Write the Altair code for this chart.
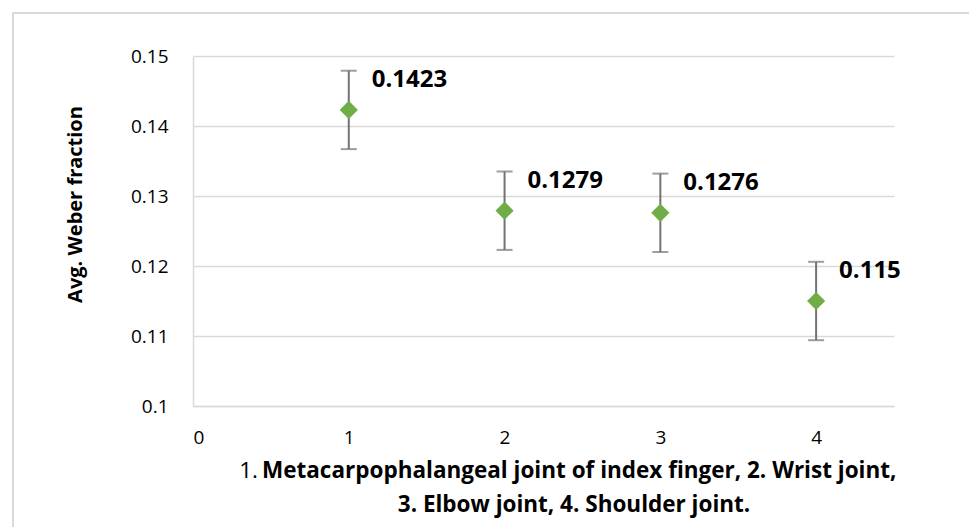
import altair as alt
import pandas as pd

joints = [1, 2, 3, 4]
means = [0.1423, 0.1279, 0.1276, 0.115]
errs = [0.0056, 0.0056, 0.0056, 0.0056]
labels = ["0.1423", "0.1279", "0.1276", "0.115"]
x_ticks = [0, 1, 2, 3, 4]
y_ticks = [0.1, 0.11, 0.12, 0.13, 0.14, 0.15]

df = pd.DataFrame({"joint": joints, "mean": means, "err": errs, "label": labels})
df["lo"] = df["mean"] - df["err"]
df["hi"] = df["mean"] + df["err"]

FONT = "Open Sans"
W, H = 701, 350
PL, PT = 193, 56

xs = alt.Scale(domain=[0, 4.5], nice=False, zero=False)
ys = alt.Scale(domain=[0.1, 0.15], nice=False, zero=False)

base = alt.Chart(df)

points = base.mark_point(shape="diamond", filled=True, size=330, color="#70AD47", opacity=1).encode(
    x=alt.X("joint:Q", scale=xs,
            axis=alt.Axis(values=x_ticks, format="d", title=None, grid=False, ticks=False,
                          domainColor="#d9d9d9", domainWidth=1.5,
                          labelFont=FONT, labelFontSize=19, labelColor="#000000",
                          labelPadding=22)),
    y=alt.Y("mean:Q", scale=ys,
            axis=alt.Axis(values=y_ticks, format="~g", title="Avg. Weber fraction",
                          ticks=False, gridColor="#d9d9d9", gridWidth=1.5,
                          domainColor="#d9d9d9", domainWidth=1.5,
                          labelFont=FONT, labelFontSize=19, labelColor="#000000",
                          labelPadding=25,
                          titleFont=FONT, titleFontSize=20, titleFontWeight="bold",
                          titleColor="#000000", titleAngle=-90, titleX=-118, titleY=148,
                          titleAlign="center", titleBaseline="middle")),
)

rules = base.mark_rule(color="#737373", strokeWidth=2).encode(
    x=alt.X("joint:Q", scale=xs), y=alt.Y("lo:Q", scale=ys), y2="hi:Q"
)
cap_lo = base.mark_tick(orient="horizontal", color="#737373", size=16, thickness=2).encode(
    x=alt.X("joint:Q", scale=xs), y=alt.Y("lo:Q", scale=ys)
)
cap_hi = base.mark_tick(orient="horizontal", color="#737373", size=16, thickness=2).encode(
    x=alt.X("joint:Q", scale=xs), y=alt.Y("hi:Q", scale=ys)
)

text = base.mark_text(align="left", baseline="middle", dx=23, dy=-30,
                      font=FONT, fontSize=24, fontWeight="bold", color="#000000").encode(
    x=alt.X("joint:Q", scale=xs), y=alt.Y("mean:Q", scale=ys), text="label:N"
)

title_src = alt.Chart(pd.DataFrame({"a": [0]}))
t1a = title_src.mark_text(align="right", baseline="middle", font=FONT, fontSize=22.5,
                          color="#000000").encode(
    x=alt.value(258 - PL), y=alt.value(471 - PT), text=alt.value("1.")
)
t1b = title_src.mark_text(align="left", baseline="middle", font=FONT, fontSize=22.5,
                          fontWeight="bold", color="#000000").encode(
    x=alt.value(262 - PL), y=alt.value(471 - PT),
    text=alt.value("Metacarpophalangeal joint of index finger, 2. Wrist joint,")
)
t2 = title_src.mark_text(align="center", baseline="middle", font=FONT, fontSize=22.5,
                         fontWeight="bold", color="#000000").encode(
    x=alt.value(574 - PL), y=alt.value(505 - PT),
    text=alt.value("3. Elbow joint, 4. Shoulder joint.")
)

border = title_src.mark_rect(fill=None, stroke="#d9d9d9", strokeWidth=2).encode(
    x=alt.value(13 - PL), x2=alt.value(990 - PL), y=alt.value(13 - PT), y2=alt.value(560 - PT)
)

chart = alt.layer(border, rules, cap_lo, cap_hi, points, text, t1a, t1b, t2).properties(
    width=W, height=H,
    autosize=alt.AutoSizeParams(type="none"),
    padding={"left": PL, "top": PT, "right": 969 - PL - W, "bottom": 527 - PT - H},
    background="#ffffff",
).configure_view(stroke=None)

chart.save("out.html", embed_options={"renderer": "svg", "actions": False})
